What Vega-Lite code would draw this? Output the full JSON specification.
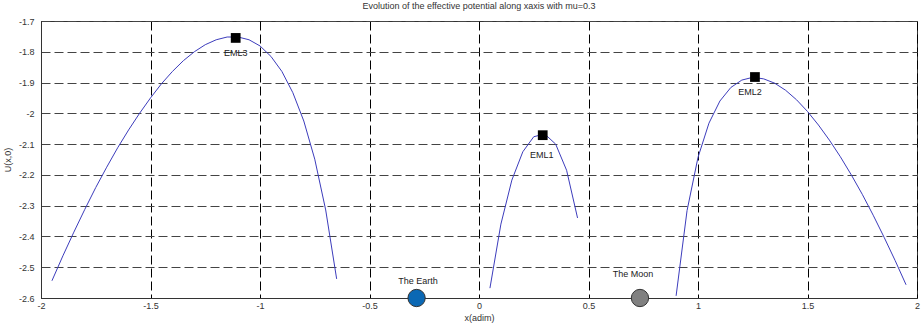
{
  "$schema": "https://vega.github.io/schema/vega-lite/v6.json",
  "width": 876,
  "height": 277,
  "autosize": {"type": "none"},
  "padding": {"left": 41, "top": 21, "right": 6, "bottom": 28},
  "background": "white",
  "config": {
    "font": "Liberation Sans",
    "view": {"stroke": "#333", "strokeWidth": 1},
    "axis": {
      "ticks": false,
      "domainColor": "#333",
      "labelFont": "Liberation Sans",
      "labelFontSize": 9,
      "labelColor": "#333",
      "labelOverlap": false,
      "titleFont": "Liberation Sans",
      "titleFontSize": 9,
      "titleFontWeight": "normal",
      "titleColor": "#333",
      "gridDash": [9, 4],
      "gridOpacity": 1,
      "gridWidth": 1
    }
  },
  "title": {
    "text": "Evolution of the effective potential along xaxis with mu=0.3",
    "fontSize": 9,
    "fontWeight": "normal",
    "font": "Liberation Sans",
    "color": "#333",
    "anchor": "middle",
    "offset": 6
  },
  "datasets": {
    "curve": [
      {"branch": "left", "x": -1.95, "u": -2.544},
      {"branch": "left", "x": -1.9, "u": -2.463},
      {"branch": "left", "x": -1.85, "u": -2.386},
      {"branch": "left", "x": -1.8, "u": -2.312},
      {"branch": "left", "x": -1.75, "u": -2.241},
      {"branch": "left", "x": -1.7, "u": -2.175},
      {"branch": "left", "x": -1.65, "u": -2.112},
      {"branch": "left", "x": -1.6, "u": -2.054},
      {"branch": "left", "x": -1.55, "u": -2.0},
      {"branch": "left", "x": -1.5, "u": -1.95},
      {"branch": "left", "x": -1.45, "u": -1.904},
      {"branch": "left", "x": -1.4, "u": -1.864},
      {"branch": "left", "x": -1.35, "u": -1.829},
      {"branch": "left", "x": -1.3, "u": -1.8},
      {"branch": "left", "x": -1.25, "u": -1.777},
      {"branch": "left", "x": -1.2, "u": -1.761},
      {"branch": "left", "x": -1.15, "u": -1.752},
      {"branch": "left", "x": -1.1, "u": -1.752},
      {"branch": "left", "x": -1.05, "u": -1.761},
      {"branch": "left", "x": -1.0, "u": -1.781},
      {"branch": "left", "x": -0.95, "u": -1.815},
      {"branch": "left", "x": -0.9, "u": -1.864},
      {"branch": "left", "x": -0.85, "u": -1.933},
      {"branch": "left", "x": -0.8, "u": -2.025},
      {"branch": "left", "x": -0.75, "u": -2.149},
      {"branch": "left", "x": -0.7, "u": -2.314},
      {"branch": "left", "x": -0.65, "u": -2.538},
      {"branch": "mid", "x": 0.05, "u": -2.568},
      {"branch": "mid", "x": 0.1, "u": -2.36},
      {"branch": "mid", "x": 0.15, "u": -2.217},
      {"branch": "mid", "x": 0.2, "u": -2.125},
      {"branch": "mid", "x": 0.25, "u": -2.076},
      {"branch": "mid", "x": 0.3, "u": -2.067},
      {"branch": "mid", "x": 0.35, "u": -2.1},
      {"branch": "mid", "x": 0.4, "u": -2.185},
      {"branch": "mid", "x": 0.45, "u": -2.34},
      {"branch": "right", "x": 0.9, "u": -2.593},
      {"branch": "right", "x": 0.95, "u": -2.316},
      {"branch": "right", "x": 1.0, "u": -2.143},
      {"branch": "right", "x": 1.05, "u": -2.032},
      {"branch": "right", "x": 1.1, "u": -1.96},
      {"branch": "right", "x": 1.15, "u": -1.916},
      {"branch": "right", "x": 1.2, "u": -1.892},
      {"branch": "right", "x": 1.25, "u": -1.883},
      {"branch": "right", "x": 1.3, "u": -1.888},
      {"branch": "right", "x": 1.35, "u": -1.902},
      {"branch": "right", "x": 1.4, "u": -1.925},
      {"branch": "right", "x": 1.45, "u": -1.956},
      {"branch": "right", "x": 1.5, "u": -1.994},
      {"branch": "right", "x": 1.55, "u": -2.038},
      {"branch": "right", "x": 1.6, "u": -2.087},
      {"branch": "right", "x": 1.65, "u": -2.141},
      {"branch": "right", "x": 1.7, "u": -2.2},
      {"branch": "right", "x": 1.75, "u": -2.263},
      {"branch": "right", "x": 1.8, "u": -2.331},
      {"branch": "right", "x": 1.85, "u": -2.403},
      {"branch": "right", "x": 1.9, "u": -2.478},
      {"branch": "right", "x": 1.95, "u": -2.557}
    ],
    "lagrange": [
      {"name": "EML3", "x": -1.111, "u": -1.755},
      {"name": "EML1", "x": 0.291, "u": -2.071},
      {"name": "EML2", "x": 1.26, "u": -1.882}
    ],
    "bodies": [
      {"name": "The Earth", "x": -0.285, "u": -2.6},
      {"name": "The Moon", "x": 0.735, "u": -2.6}
    ],
    "labels": [
      {"name": "EML3", "x": -1.111, "u": -1.803},
      {"name": "EML1", "x": 0.286, "u": -2.136},
      {"name": "EML2", "x": 1.237, "u": -1.931},
      {"name": "The Earth", "x": -0.279, "u": -2.546},
      {"name": "The Moon", "x": 0.703, "u": -2.523}
    ]
  },
  "encoding": {
    "x": {
      "field": "x", "type": "quantitative",
      "scale": {"domain": [-2, 2], "nice": false},
      "axis": {
        "values": [-2, -1.5, -1, -0.5, 0, 0.5, 1, 1.5, 2],
        "labelExpr": "'' + datum.value",
        "title": "x(adim)",
        "grid": true,
        "gridColor": "#000",
        "labelPadding": 3,
        "titlePadding": 3,
        "labelFlush": false
      }
    },
    "y": {
      "field": "u", "type": "quantitative",
      "scale": {"domain": [-2.6, -1.7], "nice": false, "zero": false},
      "axis": {
        "values": [-2.6, -2.5, -2.4, -2.3, -2.2, -2.1, -2, -1.9, -1.8, -1.7],
        "labelExpr": "'' + datum.value",
        "title": "U(x,0)",
        "grid": true,
        "gridColor": "#444",
        "labelPadding": 7,
        "titlePadding": 6,
        "labelFlush": false
      }
    }
  },
  "layer": [
    {
      "data": {"name": "curve"},
      "mark": {"type": "line", "color": "#3c3cbc", "strokeWidth": 1},
      "encoding": {
        "detail": {"field": "branch", "type": "nominal"},
        "order": {"field": "x", "type": "quantitative"}
      }
    },
    {
      "data": {"name": "lagrange"},
      "mark": {"type": "square", "color": "#000", "filled": true, "opacity": 1, "size": 95},
      "encoding": {}
    },
    {
      "data": {"name": "bodies"},
      "mark": {"type": "circle", "size": 300, "opacity": 1, "strokeWidth": 1, "stroke": "#333"},
      "encoding": {
        "color": {
          "field": "name", "type": "nominal",
          "scale": {"domain": ["The Earth", "The Moon"], "range": ["#0b68b4", "#808080"]},
          "legend": null
        }
      }
    },
    {
      "data": {"name": "labels"},
      "mark": {"type": "text", "fontSize": 9, "color": "#222", "font": "Liberation Sans", "baseline": "middle", "align": "center"},
      "encoding": {
        "text": {"field": "name"}
      }
    }
  ]
}
